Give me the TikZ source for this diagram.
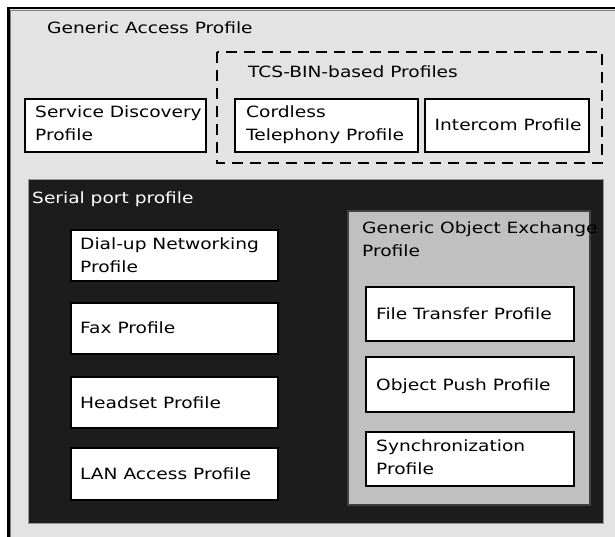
\documentclass[tikz,border=0pt]{standalone}
\usepackage{fontspec}
\setmainfont{DejaVu Sans}[FakeStretch=1.2]
\definecolor{bggrey}{HTML}{E3E3E3}
\definecolor{panelblack}{HTML}{1C1C1C}
\definecolor{goepgrey}{HTML}{C0C0C0}
\begin{document}
\begin{tikzpicture}[x=1pt,y=-1pt,
  every node/.style={font=\fontsize{15.5}{23}\selectfont, inner sep=0pt, align=left},
  profile/.style={draw=black, line width=1.2pt, fill=white},
  caption/.style={anchor=base west},
]
\useasboundingbox (0,0) rectangle (615,537);
\fill[white] (0,0) rectangle (615,537);

% Generic Access Profile frame
\fill[bggrey] (7,7) rectangle (616,538);
\draw[line width=2.5pt] (8.25,538) -- (8.25,8.25) -- (616,8.25);
\draw[gray, line width=1pt] (10.5,538) -- (10.5,10.5) -- (616,10.5);
\node[caption] (gap) at (47,34) {Generic Access Profile};

% TCS-BIN group (base anchor of a two-line caption sits on its last line)
\draw[dash pattern=on 11pt off 7pt, line width=1.5pt] (217,52) rectangle (602,163);
\node[caption] (tcs) at (248,78) {TCS-BIN-based Profiles};

\draw[profile] (25,99) rectangle (206,152);
\node[caption] (sdp) at (35,141) {Service Discovery\\Profile};
\draw[profile] (235,99) rectangle (418,152);
\node[caption] (ctp) at (246,141) {Cordless\\Telephony Profile};
\draw[profile] (425,99) rectangle (589,152);
\node[caption] (icp) at (434.5,131) {Intercom Profile};

% Serial port profile
\draw[draw=gray!80, fill=panelblack, line width=1pt] (28,180) rectangle (603,523);
\node[caption, text=white] (spp) at (32,204) {Serial port profile};

\draw[profile] (71,230) rectangle (278,281);
\node[caption] (dun) at (80,272) {Dial-up Networking\\Profile};
\draw[profile] (71,303) rectangle (278,354);
\node[caption] (fax) at (80,333) {Fax Profile};
\draw[profile] (71,377) rectangle (278,428);
\node[caption] (hsp) at (80,408) {Headset Profile};
\draw[profile] (71,448) rectangle (278,500);
\node[caption] (lap) at (80,479) {LAN Access Profile};

% Generic Object Exchange Profile
\draw[draw=black!75, fill=goepgrey, line width=1.2pt] (348,211) rectangle (590,505);
\node[caption] (goep) at (362,256) {Generic Object Exchange\\Profile};

\draw[profile] (366,287) rectangle (574,341);
\node[caption] (ftp) at (376,319) {File Transfer Profile};
\draw[profile] (366,357) rectangle (574,412);
\node[caption] (opp) at (376,390) {Object Push Profile};
\draw[profile] (366,432) rectangle (574,486);
\node[caption] (sync) at (376,474) {Synchronization\\Profile};
\end{tikzpicture}
\end{document}
